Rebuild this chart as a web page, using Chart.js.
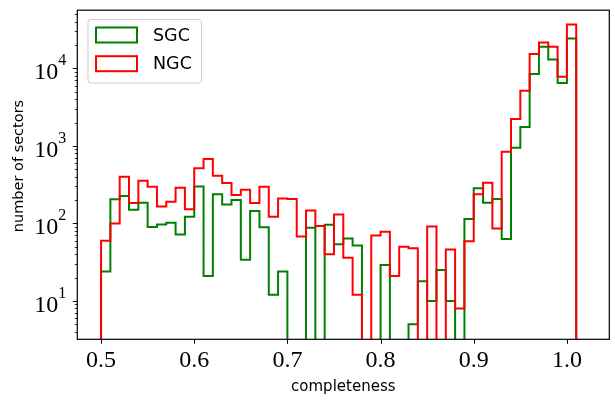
<!DOCTYPE html>
<html><head><meta charset="utf-8">
<script src="https://cdn.jsdelivr.net/npm/chart.js@4.4.1/dist/chart.umd.min.js"></script>
<style>html,body{margin:0;padding:0;background:#fff}</style>
</head><body>
<canvas id="c" width="615" height="400"></canvas>
<script>
// ---- data ----
const binEdges = [0.50,0.51,0.52,0.53,0.54,0.55,0.56,0.57,0.58,0.59,
                  0.60,0.61,0.62,0.63,0.64,0.65,0.66,0.67,0.68,0.69,
                  0.70,0.71,0.72,0.73,0.74,0.75,0.76,0.77,0.78,0.79,
                  0.80,0.81,0.82,0.83,0.84,0.85,0.86,0.87,0.88,0.89,
                  0.90,0.91,0.92,0.93,0.94,0.95,0.96,0.97,0.98,0.99,
                  1.00,1.01,1.02];
const sgcCounts = [24,205,226,150,185,90,97,102,72,122,
                   300,21,238,175,201,34,145,89,12,24,
                   0,0,88,0,96,54,64,52,0,0,
                   29,0,0,5,18,10,25,10,0,114,
                   284,185,207,63,950,1750,8500,19000,13000,6500,
                   24400,0];
const ngcCounts = [60,100,400,184,356,298,166,190,289,152,
                   514,678,413,333,233,273,184,298,122,210,
                   206,68,147,93,40,130,36,12,0,70,
                   78,21,50,48,0,91,0,46,8,59,
                   238,336,86,842,2220,5150,15300,21600,19000,7800,
                   36900,0];
const seriesLabels = ['SGC','NGC'];
const seriesColors = ['#008000','#ff0000'];
const xTicks = [0.5,0.6,0.7,0.8,0.9,1.0];
const yMajorTicks = [1,10,100,1000,10000,100000];
const xLabel = 'completeness';
const yLabel = 'number of sectors';

// ---- helpers ----
const FLOOR = 0.01; // empty bins drop below the axis (clipped)
function stepPoints(counts){
  const pts = [{x: binEdges[0], y: FLOOR}];
  counts.forEach((c,i) => pts.push({x: binEdges[i], y: c > 0 ? c : FLOOR}));
  pts.push({x: binEdges[binEdges.length-1], y: FLOOR});
  return pts;
}
const yAllTicks = [];
yMajorTicks.forEach(m => { yAllTicks.push({value:m, major:true}); for (let f=2; f<=9; f++) yAllTicks.push({value:m*f, major:false}); });

const SANS = 'DejaVu Sans';
const SERIF = 'Liberation Serif';

const decor = {
  id: 'decor',
  afterDraw(chart){
    const ctx = chart.ctx, a = chart.chartArea;
    const xs = chart.scales.x, ys = chart.scales.y;
    ctx.save();
    // frame
    ctx.strokeStyle = '#000'; ctx.lineWidth = 1.2;
    ctx.strokeRect(a.left, a.top, a.right - a.left, a.bottom - a.top);
    // x ticks
    ctx.lineWidth = 1;
    xTicks.forEach(v => {
      const px = Math.round(xs.getPixelForValue(v)) + 0.5;
      ctx.beginPath(); ctx.moveTo(px, a.bottom); ctx.lineTo(px, a.bottom + 4.5); ctx.stroke();
    });
    // y ticks + labels
    yAllTicks.forEach(t => {
      if (t.value < ys.min || t.value > ys.max) return;
      const py = Math.round(ys.getPixelForValue(t.value)) + 0.5;
      const len = t.major ? 4.5 : 2.5;
      ctx.lineWidth = t.major ? 1 : 0.8;
      ctx.beginPath(); ctx.moveTo(a.left, py); ctx.lineTo(a.left - len, py); ctx.stroke();
      if (t.major) {
        const exp = String(Math.round(Math.log10(t.value)));
        ctx.fillStyle = '#000';
        ctx.textBaseline = 'alphabetic';
        ctx.font = '16px "' + SERIF + '"';
        const ew = ctx.measureText(exp).width;
        const right = a.left - 11;
        ctx.textAlign = 'left';
        ctx.fillText(exp, right - ew, py - 3.5);
        ctx.font = '24px "' + SERIF + '"';
        ctx.textAlign = 'right';
        ctx.fillText('10', right - ew, py + 10);
      }
    });
    // y axis title
    ctx.save();
    ctx.translate(19, 166);
    ctx.rotate(-Math.PI / 2);
    ctx.fillStyle = '#000'; ctx.font = '14.5px "' + SANS + '"';
    ctx.textAlign = 'center'; ctx.textBaseline = 'middle';
    ctx.fillText(yLabel, 0, 0);
    ctx.restore();
    // legend
    const lx = 88, ly = 19.5, lw = 113.5, lh = 63.5, r = 3;
    ctx.beginPath();
    ctx.moveTo(lx + r, ly); ctx.lineTo(lx + lw - r, ly); ctx.arcTo(lx + lw, ly, lx + lw, ly + r, r);
    ctx.lineTo(lx + lw, ly + lh - r); ctx.arcTo(lx + lw, ly + lh, lx + lw - r, ly + lh, r);
    ctx.lineTo(lx + r, ly + lh); ctx.arcTo(lx, ly + lh, lx, ly + lh - r, r);
    ctx.lineTo(lx, ly + r); ctx.arcTo(lx, ly, lx + r, ly, r); ctx.closePath();
    ctx.fillStyle = 'rgba(255,255,255,0.8)'; ctx.fill();
    ctx.strokeStyle = '#cccccc'; ctx.lineWidth = 1; ctx.stroke();
    const rowY = [35, 63.7];
    seriesLabels.forEach((lab, i) => {
      ctx.strokeStyle = seriesColors[i]; ctx.lineWidth = 2;
      ctx.strokeRect(96, rowY[i] - 7.5, 41, 15);
      ctx.fillStyle = '#000'; ctx.font = '17.5px "' + SANS + '"';
      ctx.textAlign = 'left'; ctx.textBaseline = 'middle';
      ctx.fillText(lab, 153, rowY[i] + 1);
    });
    ctx.restore();
  }
};

new Chart(document.getElementById('c'), {
  type: 'line',
  data: {
    datasets: [
      { label: seriesLabels[0], data: stepPoints(sgcCounts), borderColor: seriesColors[0], backgroundColor: 'transparent',
        borderWidth: 2, pointRadius: 0, stepped: 'before', fill: false, order: 2, clip: 0 },
      { label: seriesLabels[1], data: stepPoints(ngcCounts), borderColor: seriesColors[1], backgroundColor: 'transparent',
        borderWidth: 2, pointRadius: 0, stepped: 'before', fill: false, order: 1, clip: 0 }
    ]
  },
  options: {
    responsive: false, animation: false,
    layout: { padding: { top: 10, right: 5.7, left: 0, bottom: 0 } },
    plugins: { legend: { display: false }, tooltip: { enabled: false } },
    scales: {
      x: {
        type: 'linear', min: 0.4745, max: 1.0455, bounds: 'data',
        afterBuildTicks: s => { s.ticks = xTicks.map(v => ({ value: v })); },
        afterFit: s => { s.height = 60.7; },
        ticks: { callback: v => Number(v).toFixed(1), font: { family: SERIF, size: 24 }, color: '#000',
                 padding: 7, maxRotation: 0, autoSkip: false },
        grid: { display: false, drawTicks: false }, border: { display: false },
        title: { display: true, text: xLabel, font: { family: SANS, size: 15 }, color: '#000', padding: { top: 0, bottom: 4 } }
      },
      y: {
        type: 'logarithmic', min: 3.2, max: 56400, bounds: 'data',
        afterBuildTicks: s => { s.ticks = yAllTicks.filter(t => t.value >= 3.2 && t.value <= 56400).map(t => ({ value: t.value })); },
        afterFit: s => { s.width = 77.3; },
        ticks: { callback: () => '', autoSkip: false },
        grid: { display: false, drawTicks: false }, border: { display: false },
        title: { display: false }
      }
    }
  },
  plugins: [decor]
});
</script>
</body></html>
